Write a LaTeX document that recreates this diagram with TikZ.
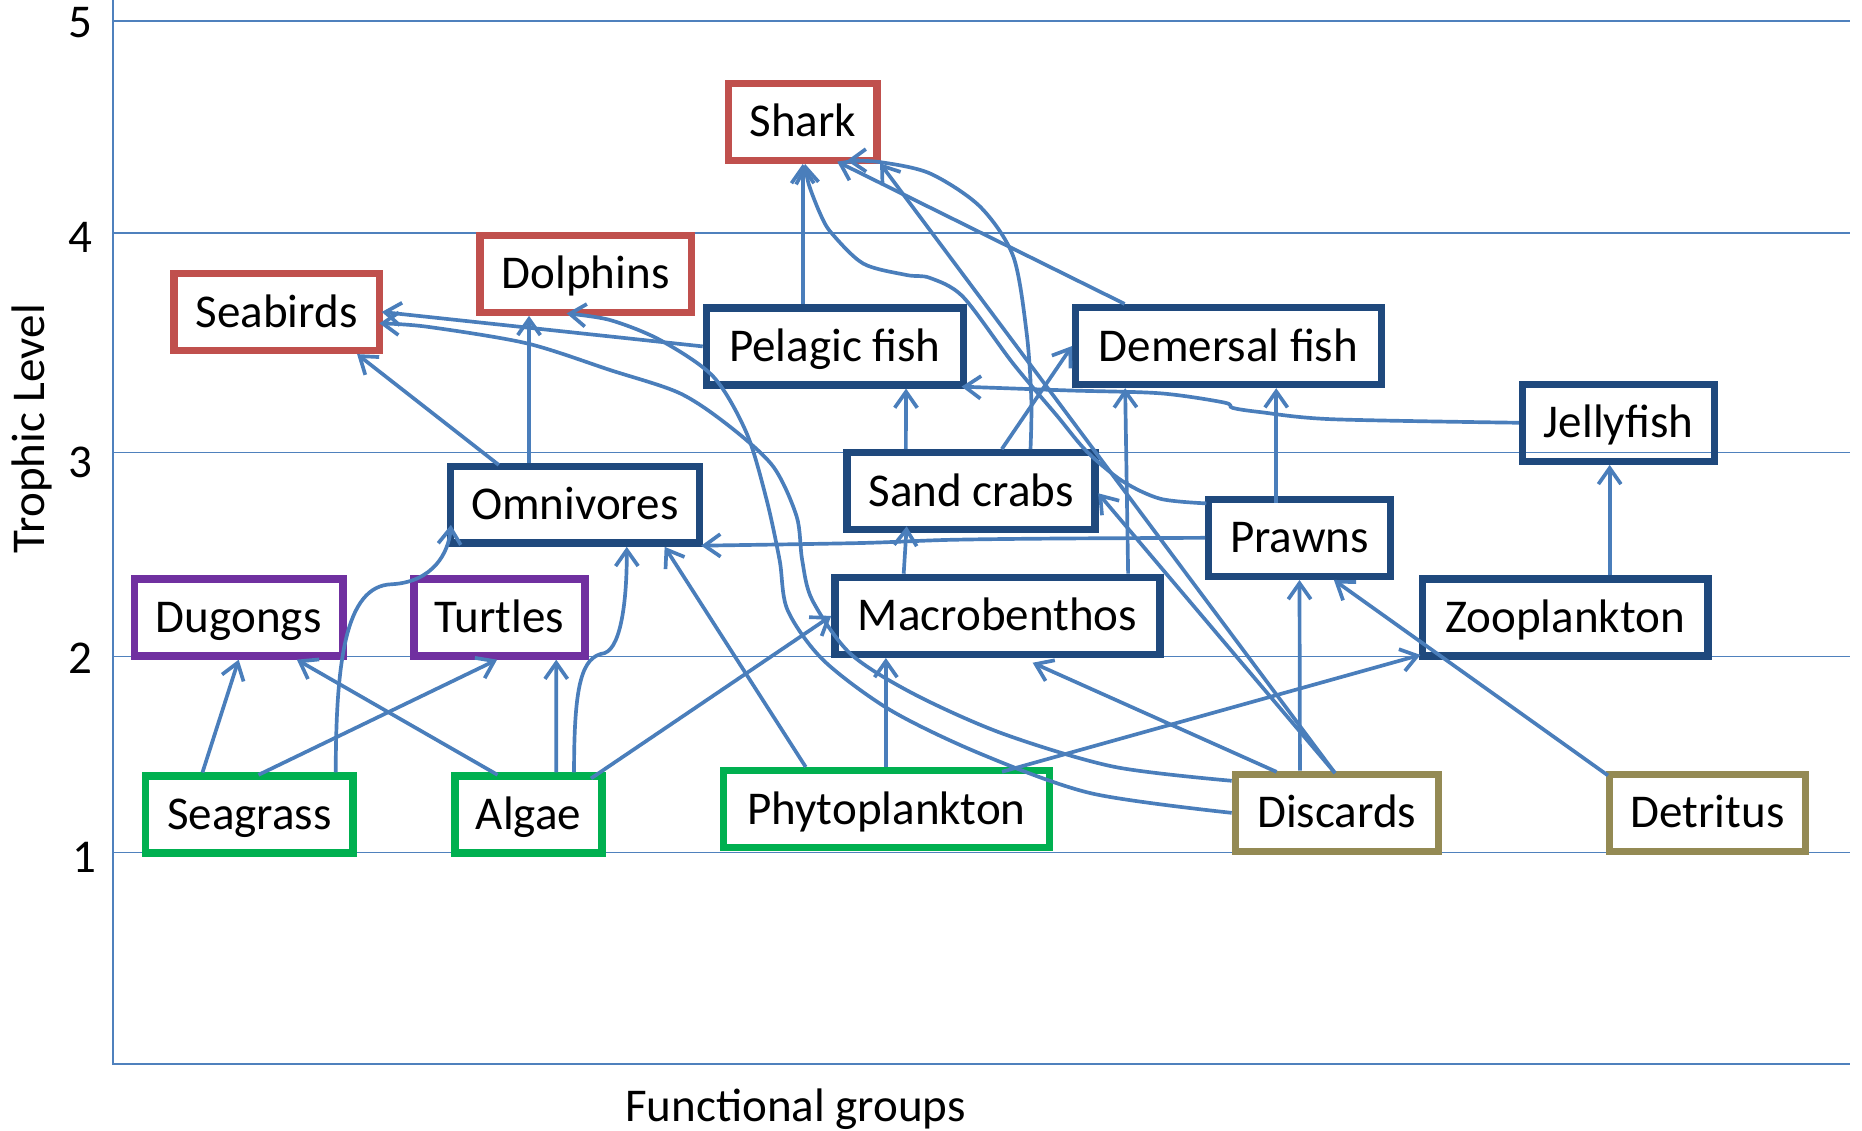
\documentclass[tikz,border=0pt]{standalone}
\usepackage{fontspec}
\setmainfont{Carlito}
\usetikzlibrary{arrows.meta,calc}
\definecolor{cred}{HTML}{C0504D}
\definecolor{cpurple}{HTML}{7030A0}
\definecolor{cgreen}{HTML}{00B050}
\definecolor{cnavy}{HTML}{1F497D}
\definecolor{colive}{HTML}{948A54}
\definecolor{cline}{HTML}{4A7EBB}
\definecolor{cgrid}{HTML}{4F81BD}
\begin{document}
\begin{tikzpicture}[x=1pt,y=-1pt,
  lbl/.style={font=\fontsize{39.6pt}{47pt}\selectfont, text height=25.5pt, text depth=0pt, inner sep=0pt, text=black},
  box/.style={lbl, draw, line width=6.2pt, minimum height=64.8pt},
  redbox/.style={box, draw=cred},
  purplebox/.style={box, draw=cpurple},
  greenbox/.style={box, draw=cgreen},
  navybox/.style={box, draw=cnavy},
  olivebox/.style={box, draw=colive},
  arr/.style={draw=cline, line width=3.1pt, -{Straight Barb[length=13.5pt,width=19pt]}},
  gridline/.style={draw=cgrid, line width=1.3pt},
  axisline/.style={draw=cgrid, line width=1.7pt}]
\useasboundingbox (0,0) rectangle (1568,952);
% grid and axes
\foreach \yy in {17.7,196,381.2,553,718} \draw[gridline] (95,\yy) -- (1558,\yy);
\draw[axisline] (95,0) -- (95,896) -- (1558,896);
% tick labels and axis titles
\node[lbl] (t5) at (67.6,18.8) {5};
\node[lbl] (t4) at (67.6,200) {4};
\node[lbl] (t3) at (67.6,389) {3};
\node[lbl] (t2) at (67.6,554) {2};
\node[lbl] (t1) at (71,722) {1};
\node[lbl, rotate=90] (ylab) at (25,361) {Trophic Level};
\node[lbl] (xlab) at (670,931.8) {Functional groups};
% boxes (minimum width = outer width - line width)
\node[redbox, minimum width=124.8pt] (shark) at (676,102.6) {Shark};
\node[redbox, minimum width=177.8pt] (dolphins) at (493.2,230.5) {Dolphins};
\node[redbox, minimum width=172.8pt] (seabirds) at (233,262.7) {Seabirds};
\node[navybox, minimum width=216.3pt] (pelagic) at (703,291.7) {Pelagic fish};
\node[navybox, minimum width=257.3pt] (demersal) at (1034.5,291.4) {Demersal fish};
\node[navybox, minimum width=161.8pt] (jelly) at (1363,356) {Jellyfish};
\node[navybox, minimum width=209.8pt] (omni) at (484,425) {Omnivores};
\node[navybox, minimum width=208.8pt] (sandcrabs) at (817.8,413.7) {Sand crabs};
\node[navybox, minimum width=152.8pt] (prawns) at (1094.3,452.9) {Prawns};
\node[purplebox, minimum width=175.8pt] (dugongs) at (201,520) {Dugongs};
\node[purplebox, minimum width=143.8pt] (turtles) at (420.6,520) {Turtles};
\node[navybox, minimum width=273.8pt] (macro) at (840,518.6) {Macrobenthos};
\node[navybox, minimum width=240.5pt] (zoo) at (1318,520) {Zooplankton};
\node[greenbox, minimum width=174.8pt] (seagrass) at (210,686) {Seagrass};
\node[greenbox, minimum width=123.8pt] (algae) at (445,686) {Algae};
\node[greenbox, minimum width=274.4pt] (phyto) at (746.5,681.4) {Phytoplankton};
\node[olivebox, minimum width=170.8pt] (discards) at (1125.7,684.5) {Discards};
\node[olivebox, minimum width=165.5pt] (detritus) at (1437.9,684.5) {Detritus};
% connectors
\draw[arr] ($(seagrass.north)+(-39.5,0)$) -- (dugongs.south);
\draw[arr] ($(seagrass.north)+(7.7,2)$) -- ($(turtles.south)+(-2,0)$);
\draw[arr] ($(seagrass.north)+(72.7,0)$) .. controls (283,560) and (290,493) .. (330,492) .. controls (365,490) and (378,465) .. ($(omni.west)+(3.7,17)$);
\draw[arr] ($(algae.north)+(-26,2)$) -- ($(dugongs.south)+(49,0)$);
\draw[arr] ($(algae.north)+(23.4,0)$) -- ($(turtles.south)+(47.8,0)$);
\draw[arr] ($(algae.north)+(38.4,0)$) .. controls (483.4,575) and (490,553) .. (509,550) .. controls (524,545) and (528,500) .. ($(omni.south)+(43.8,0)$);
\draw[arr] ($(algae.north)+(52.7,5)$) -- (macro.west);
\draw[arr] ($(phyto.north)+(-68,0)$) -- ($(omni.south)+(75.7,0)$);
\draw[arr] ($(phyto.north)+(-0.5,0)$) -- ($(macro.south)+(-94,0)$);
\draw[arr] ($(phyto.north)+(97.3,4)$) -- ($(zoo.south west)+(1.5,-4)$);
\draw[arr] ($(omni.north)+(-64,2)$) -- ($(seabirds.south)+(67.7,0)$);
\draw[arr] ($(omni.north)+(-38.5,0)$) -- ($(dolphins.south)+(-47.7,0)$);
\draw[arr] (pelagic.west) -- ($(seabirds.east)+(-1,0)$);
\draw[arr] ($(pelagic.north)+(-27,0)$) -- (shark.south);
\draw[arr] ($(sandcrabs.north)+(-55,0)$) -- ($(pelagic.south)+(60,0)$);
\draw[arr] ($(sandcrabs.north)+(25.8,0)$) -- (demersal.west);
\draw[arr] plot[smooth] coordinates {($(sandcrabs.north)+(50,0)$) (868.5,337) (864.6,281) (853.3,216) (825.3,174) (783,146) (741,136.5) ($(shark.south east)+(-28.4,-2.8)$)};
\draw[arr] ($(macro.north)+(-79,0)$) -- ($(sandcrabs.south)+(-54.3,-6)$);
\draw[arr] ($(macro.north)+(110,0)$) -- ($(demersal.south)+(-87,0)$);
\draw[arr] ($(demersal.north)+(-87.5,0)$) -- ($(shark.south)+(29,-2)$);
\draw[arr] plot[smooth] coordinates {($(prawns.west)+(1,-29)$) (977,420) (945,405) (915,380) (890,350) (853,306) (811,250) (783,234) (763.5,231.6) (727,222) (700,196) (690.5,179.6) (681,155) ($(shark.south)+(2,0)$)};
\draw[arr] ($(prawns.north)+(-19.6,6)$) -- ($(demersal.south)+(40.2,0)$);
\draw[arr] plot[smooth] coordinates {(prawns.west) (890,453.5) (800,454.6) (724,457.3) ($(omni.south east)+(-1.5,-1)$)};
\draw[arr] plot[smooth] coordinates {(jelly.west) (1121,353) (1061,347) (1038,343.5) (1031,339) (977,331.2) (900,328.8) ($(pelagic.south east)+(-4.5,-1.6)$)};
\draw[arr] ($(zoo.north)+(37.5,0)$) -- ($(jelly.south)+(-7.5,0)$);
\draw[arr] ($(discards.north)+(-31,0)$) -- (prawns.south);
\draw[arr] ($(detritus.north west)+(2,4)$) -- ($(prawns.south)+(29,0)$);
\draw[arr] ($(discards.north)+(-50.7,1)$) -- ($(macro.south)+(29.6,4)$);
\draw[arr] ($(discards.north)+(-1.5,2)$) -- ($(sandcrabs.east)+(-0.5,1.7)$);
\draw[arr] ($(discards.north)+(-1.5,2)$) -- ($(shark.south east)+(-0.4,-0.6)$);
\draw[arr] plot[smooth] coordinates {(discards.west) (918.7,668) (824.8,634.4) (749.6,597.9) (693.2,555.8) (663.2,513.7) (656.5,471.6) (645.6,421) (628.8,364.9) (600.7,317.2) (555.8,286.3) (513.7,269.5) ($(dolphins.south)+(-16,-2)$)};
\draw[arr] plot[smooth] coordinates {($(discards.west)+(0,-27)$) (937.6,645.6) (843.6,617.5) (768.4,583.8) (715.8,550.2) (684,505.3) (675.5,471.6) (670.9,435.1) (651.2,393) (614.7,359.3) (572.6,331.2) (513.7,311.6) (443.5,289.1) (359.3,275.1) ($(seabirds.east)+(-3,9.6)$)};
\end{tikzpicture}
\end{document}
